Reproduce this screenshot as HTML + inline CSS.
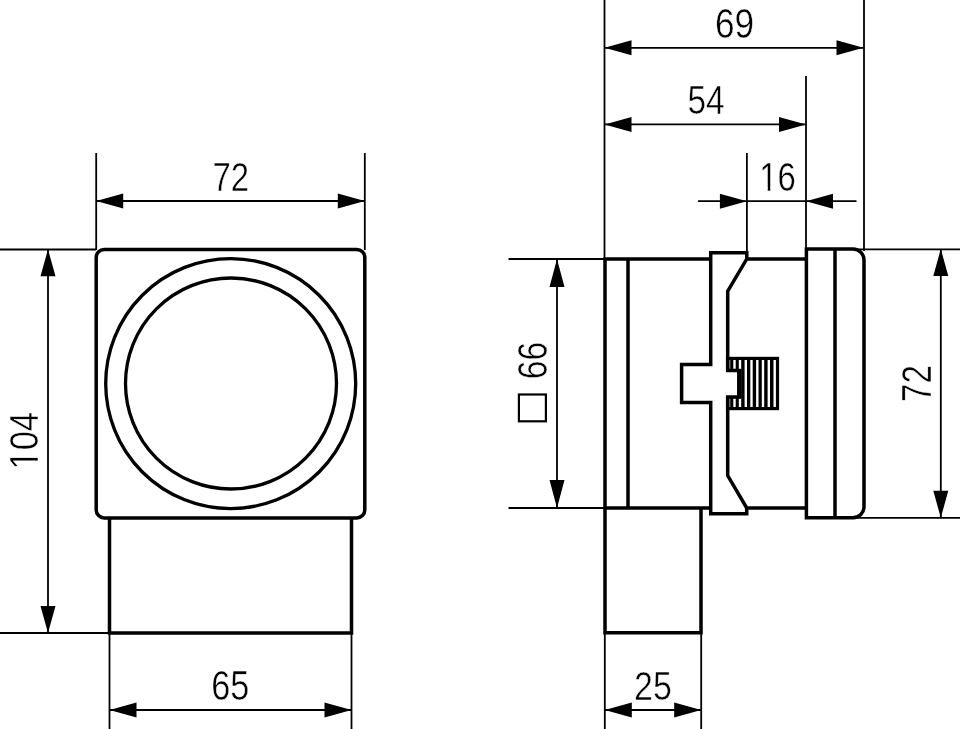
<!DOCTYPE html>
<html lang="en">
<head>
<meta charset="utf-8">
<title>Dimension drawing</title>
<style>
  html, body { margin: 0; padding: 0; background: #fff; }
  body { width: 960px; height: 729px; overflow: hidden; }
  svg { display: block; }
  .thin  { fill: none; stroke: #000; stroke-width: 1.8; }
  .thick { fill: none; stroke: #000; stroke-width: 3.5; stroke-linejoin: miter; }
  .circ  { fill: none; stroke: #000; stroke-width: 3.3; }
  .arr   { fill: #000; stroke: none; }
  .num   { font-family: "Liberation Sans", sans-serif; font-size: 38.5px; fill: #000;
           stroke: #fff; stroke-width: 0.45px; text-anchor: middle; }
</style>
</head>
<body>
<svg width="960" height="729" viewBox="0 0 960 729" style="will-change:transform">
  <rect x="0" y="0" width="960" height="729" fill="#fff"/>

  <!-- ================= FRONT VIEW ================= -->
  <g id="front">
    <!-- extension lines -->
    <path class="thin" d="M96.2 153V250 M364.8 153V250 M0 249.5H96 M0 633H109.5 M109.5 633V729 M351.5 633V729"/>
    <!-- dimension lines -->
    <path class="thin" d="M96.2 201H364.8 M48 250V633 M109.5 710H351.5"/>
    <!-- arrowheads -->
    <path class="arr" d="M96.2 201l27 -7.5v15z M364.8 201l-27 -7.5v15z"/>
    <path class="arr" d="M48 249.3l-7.5 27h15z M48 632.9l-7.5 -27h15z"/>
    <path class="arr" d="M109.5 710l27 -7.5v15z M351.5 710l-27 -7.5v15z"/>
    <!-- housing -->
    <rect class="thick" x="96.2" y="249.4" width="268.6" height="268.5" rx="8" ry="8"/>
    <circle class="circ" cx="230.7" cy="383.6" r="125"/>
    <circle class="circ" cx="231" cy="383.5" r="105.5"/>
    <path class="thick" d="M109.5 518V633H351.5V518"/>
    <!-- numbers -->
    <text class="num" transform="translate(230.71 191.20) scale(0.854 1.044)">72</text>
    <text class="num" transform="translate(230.36 699.80) scale(0.890 1.090)">65</text>
    <g transform="translate(37.50 440.7) rotate(-90) scale(0.894 1.075)"><text class="num">104</text><rect x="-30.89" y="-3.5" width="8.63" height="4.3" fill="#fff"/><rect x="-19.21" y="-3.5" width="8.1" height="4.3" fill="#fff"/></g>
  </g>

  <!-- ================= SIDE VIEW ================= -->
  <g id="side">
    <!-- extension lines -->
    <path class="thin" d="M604.5 0V259 M864 0V251 M806 76V249 M746.9 153V253 M508.5 259H604 M508.5 508H604 M857 249.3H960 M856 517.8H960 M604.8 633V729 M701.2 633V729"/>
    <!-- dimension lines -->
    <path class="thin" d="M604.5 47.8H863.5 M604.5 124.4H806 M698 201.2H856.5 M557 259V508 M940.8 249V518 M604.8 710H701.2"/>
    <!-- arrowheads -->
    <path class="arr" d="M604.5 47.8l27 -7.5v15z M863.5 47.8l-27 -7.5v15z"/>
    <path class="arr" d="M604.5 124.4l27 -7.5v15z M806 124.4l-27 -7.5v15z"/>
    <path class="arr" d="M746.9 201.2l-27 -7.5v15z M806 201.2l27 -7.5v15z"/>
    <path class="arr" d="M557 259l-7.5 28h15z M557 508l-7.5 -28h15z"/>
    <path class="arr" d="M940.8 249l-7.5 27h15z M940.8 517.8l-7.5 -27h15z"/>
    <path class="arr" d="M604.8 710l27 -7.5v15z M701.2 710l-27 -7.5v15z"/>

    <!-- body -->
    <path class="thick" d="M711 259H605V508H711 M628 259V508"/>
    <!-- lower base -->
    <path class="thick" d="M605 508V632.7H701V508"/>
    <!-- mounting clip -->
    <path class="thick" d="M746.8 259V252.8H710.7V364.4H681.6V402.4H710.7V513.8H746.7V508"/>
    <!-- inner profile -->
    <path class="thick" d="M806 258.9H746.8L727.7 291.2V370.5H738.8V397H727.7V475.6L746.7 507.9H806"/>
    <!-- threaded block -->
    <rect x="726" y="356.8" width="53.1" height="53.4" fill="#000"/>
    <g fill="#fff">
      <rect x="729.3" y="360" width="0.9" height="47"/>
      <rect x="733.3" y="360" width="2.4" height="47"/>
      <rect x="738.8" y="360" width="2.4" height="47"/>
      <rect x="744.6" y="360" width="2.4" height="47"/>
      <rect x="750.3" y="360" width="2.4" height="47"/>
      <rect x="756.1" y="360" width="2.4" height="47"/>
      <rect x="761.8" y="360" width="2.4" height="47"/>
      <rect x="767.6" y="360" width="2.4" height="47"/>
      <rect x="773.5" y="360" width="2.4" height="47"/>
      <rect x="724" y="370.5" width="14.8" height="26.5"/>
    </g>
    <rect x="738.6" y="369" width="3" height="29.6" fill="#000"/>
    <path class="thick" d="M727.7 357V370.5H738.8V397H727.7V410"/>
    <!-- front bezel -->
    <path class="thick" d="M806.4 249H853A11 11 0 0 1 864 260V506.7A11 11 0 0 1 853 517.7H806.4Z M835 249V517.7"/>

    <!-- numbers -->
    <text class="num" transform="translate(734.60 37.80) scale(0.914 1.093)">69</text>
    <text class="num" transform="translate(706.09 113.60) scale(0.866 1.047)">54</text>
    <g transform="translate(777.60 191.30) scale(0.853 1.074)"><text class="num">16</text><rect x="-20.18" y="-3.5" width="8.63" height="4.3" fill="#fff"/><rect x="-8.51" y="-3.5" width="8.1" height="4.3" fill="#fff"/></g>
    <text class="num" transform="translate(652.98 699.60) scale(0.881 1.064)">25</text>
    <text class="num" transform="translate(546.70 360.6) rotate(-90) scale(0.874 1.09)">66</text>
    <rect x="518.9" y="394.5" width="27" height="26.8" fill="none" stroke="#000" stroke-width="2.2"/>
    <text class="num" transform="translate(931.30 383.50) rotate(-90) scale(0.862 1.090)">72</text>
  </g>
</svg>
</body>
</html>
